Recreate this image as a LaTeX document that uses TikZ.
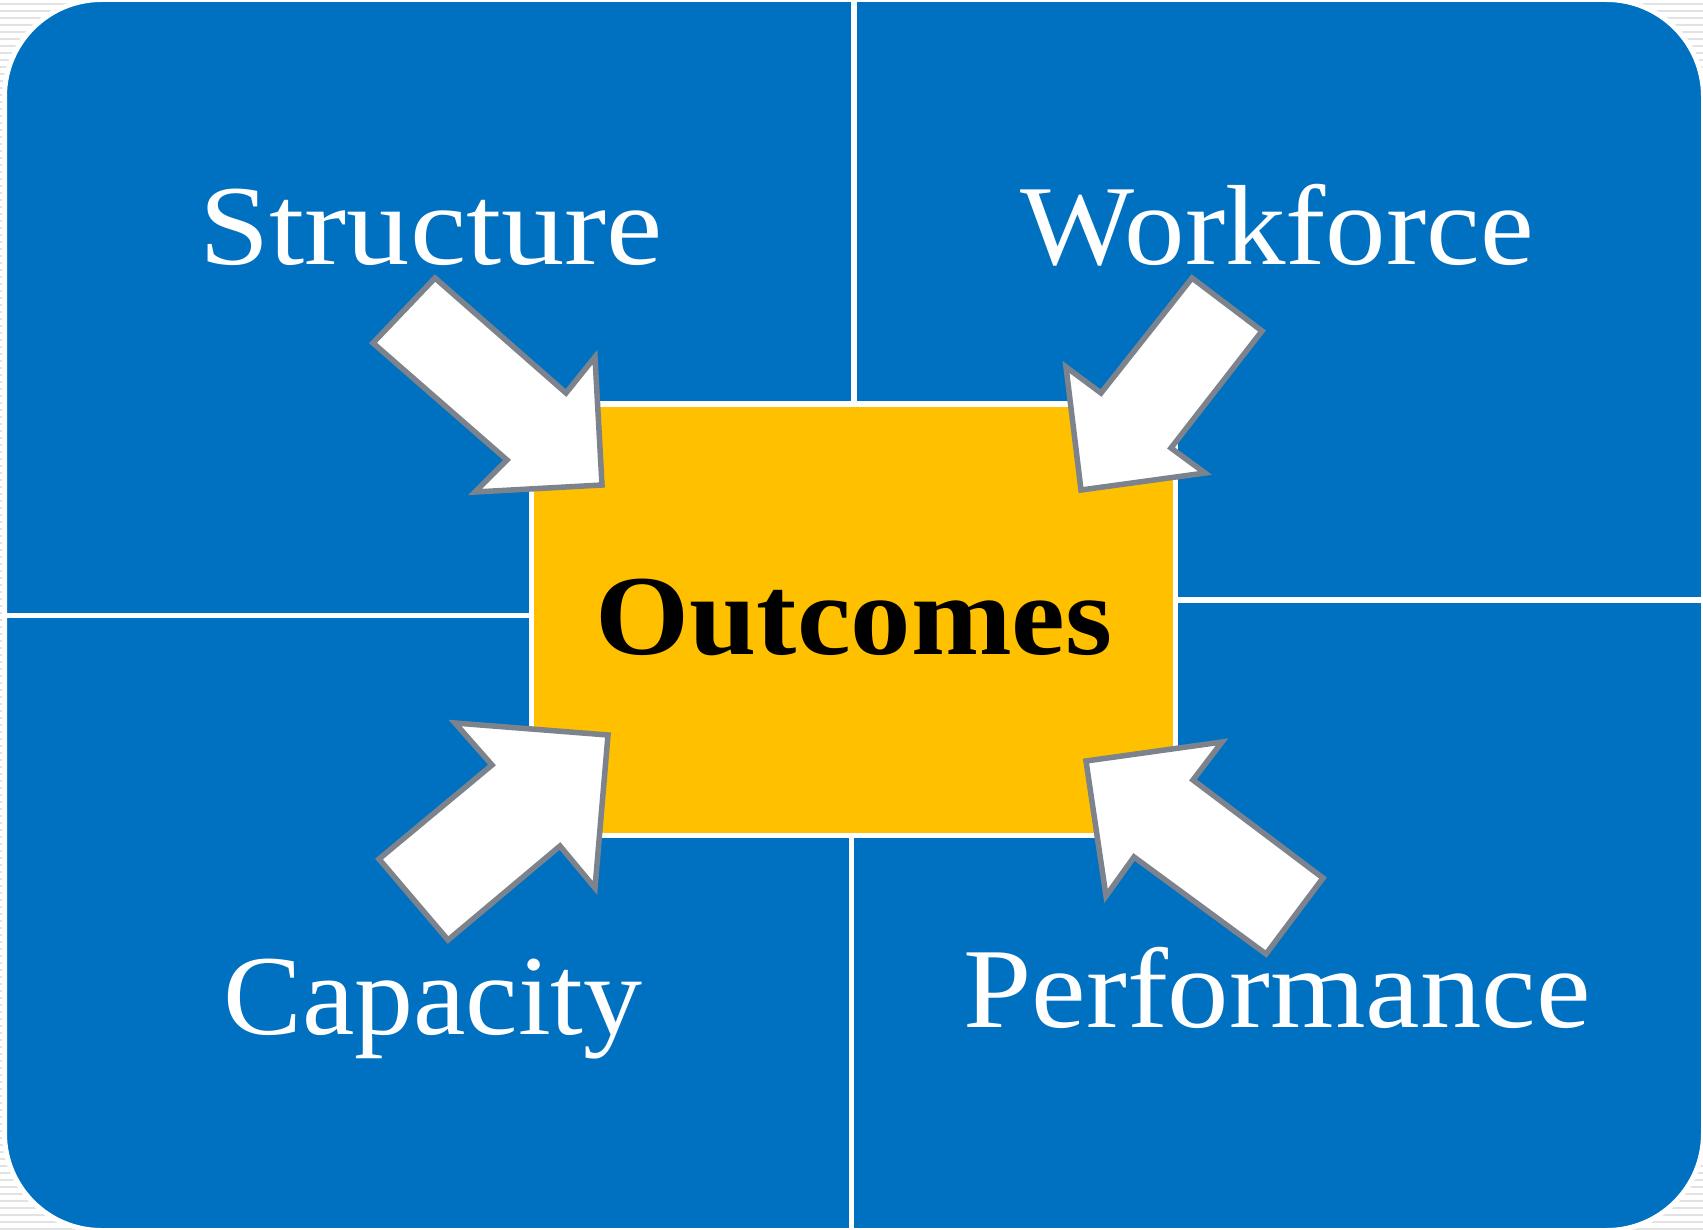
\documentclass[tikz,border=0pt]{standalone}
\usepackage{fontspec}
\setmainfont{Liberation Serif}
\definecolor{MSblue}{RGB}{0,112,192}
\definecolor{MSgold}{RGB}{255,192,0}
\definecolor{arrowgray}{RGB}{124,131,140}
\definecolor{stripegray}{RGB}{226,226,226}

\begin{document}
\begin{tikzpicture}[x=1pt, y=-1pt,
	bigarrow/.style={fill=white, draw=arrowgray, line width=5.5pt, line join=miter},
	divider/.style={draw=white, line width=5.5pt},
	quadtext/.style={white, font=\fontsize{114}{126}\selectfont, anchor=base}]
	\useasboundingbox (0,0) rectangle (1703,1230);
	\fill[white] (0,0) rectangle (1703,1230);
	\foreach \y in {4,11,...,1230} \draw[stripegray, line width=2pt] (0,\y) -- (1703,\y);
	\draw[fill=MSblue, draw=white, line width=5pt, rounded corners=97pt] (4.5,-0.5) rectangle (1703.5,1230.5);
	\draw[divider] (854,0) -- (854,404);
	\draw[divider] (7,615.5) -- (531.5,615.5);
	\draw[divider] (1175.5,600) -- (1703,600);
	\draw[divider] (851.5,835.5) -- (851.5,1230);
	\draw[fill=MSgold, draw=white, line width=5.5pt] (531.5,404) rectangle (1175.5,835.5);
	\draw[bigarrow] (435,278) -- (566,393) -- (595,357) -- (602,485) -- (475,492) -- (507,460) -- (373,343) -- cycle;
	\draw[bigarrow] (1192,278) -- (1262,331) -- (1171,448) -- (1205,473) -- (1081,490) -- (1066,367) -- (1101,393) -- cycle;
	\draw[bigarrow] (379,859) -- (492,765) -- (455,723) -- (608,735) -- (595,888) -- (560,846) -- (448,940) -- cycle;
	\draw[bigarrow] (1323,878) -- (1193,780) -- (1222,742) -- (1086,761) -- (1106,896) -- (1134,857) -- (1266,954) -- cycle;
	\node[quadtext] (structure) at (431,265) {\scalebox{1.11}[1]{Structure}};
	\node[quadtext] (workforce) at (1277,265) {\scalebox{1.06}[1]{Workforce}};
	\node[quadtext] (capacity) at (433,1034) {\scalebox{1.035}[1]{Capacity}};
	\node[quadtext] (performance) at (1277,1027) {\scalebox{1.077}[1]{Performance}};
	\node[quadtext, black, font=\fontsize{114}{126}\selectfont\bfseries] (outcomes) at (854,654) {\scalebox{1.06}[1]{Outcomes}};
\end{tikzpicture}
\end{document}
